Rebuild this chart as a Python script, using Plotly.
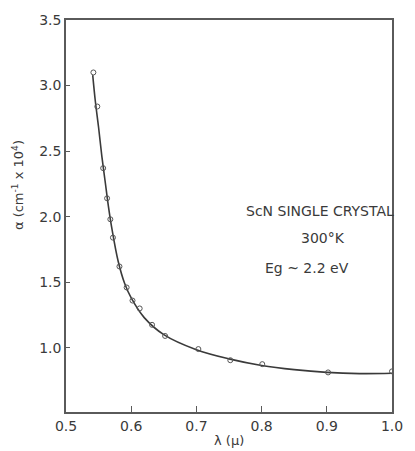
import plotly.graph_objects as go

# Measured absorption coefficient of ScN (units of 10^4 cm^-1) vs wavelength (microns)
wavelength = [0.542, 0.548, 0.557, 0.563, 0.568, 0.572, 0.582, 0.593, 0.602,
              0.613, 0.632, 0.652, 0.703, 0.752, 0.801, 0.902, 1.000]
alpha = [3.10, 2.84, 2.37, 2.14, 1.98, 1.84, 1.62, 1.46, 1.36,
         1.30, 1.175, 1.09, 0.99, 0.905, 0.875, 0.812, 0.82]

# Smooth curve drawn through the measurements
curve_x = [0.541, 0.545, 0.55, 0.555, 0.56, 0.565, 0.57, 0.58, 0.59, 0.60, 0.62,
           0.65, 0.70, 0.75, 0.80, 0.85, 0.90, 0.95, 1.00]
curve_y = [3.08, 2.88, 2.68, 2.46, 2.27, 2.08, 1.92, 1.66, 1.49, 1.38, 1.23,
           1.10, 0.985, 0.915, 0.865, 0.833, 0.812, 0.803, 0.805]

x_ticks = [0.5, 0.6, 0.7, 0.8, 0.9, 1.0]
x_tick_text = ["0.5", "0.6", "0.7", "0.8", "0.9", "1.0"]
y_ticks = [1.0, 1.5, 2.0, 2.5, 3.0, 3.5]
y_tick_text = ["1.0", "1.5", "2.0", "2.5", "3.0", "3.5"]

ink = "#3a3a3a"
axis_col = "#5a5a5a"
font_family = "DejaVu Sans"

fig = go.Figure()
fig.add_trace(go.Scatter(
    x=curve_x, y=curve_y, mode="lines",
    line=dict(color=ink, width=1.6, shape="spline", smoothing=1.0),
    hoverinfo="skip", showlegend=False,
))
fig.add_trace(go.Scatter(
    x=wavelength, y=alpha, mode="markers",
    marker=dict(symbol="circle-open", size=5, color="#555555", line=dict(width=1)),
    showlegend=False,
))

# Sample description
label_font = dict(size=14, color=ink, family=font_family)
fig.add_annotation(x=0.889, y=2.045, xref="x", yref="y", showarrow=False,
                   xanchor="center", yanchor="middle",
                   text="ScN SINGLE CRYSTAL", font=label_font)
fig.add_annotation(x=0.894, y=1.84, xref="x", yref="y", showarrow=False,
                   xanchor="center", yanchor="middle",
                   text="300°K", font=label_font)
fig.add_annotation(x=0.870, y=1.61, xref="x", yref="y", showarrow=False,
                   xanchor="center", yanchor="middle",
                   text="Eg ~ 2.2 eV", font=label_font)

# Axis titles
title_font = dict(size=13, color=ink, family=font_family)
fig.add_annotation(x=0.75, y=-0.072, xref="x", yref="paper", showarrow=False,
                   xanchor="center", yanchor="middle",
                   text="λ (μ)", font=title_font)
fig.add_annotation(x=-0.149, y=0.58, xref="paper", yref="paper", showarrow=False,
                   xanchor="center", yanchor="middle", textangle=-90,
                   text="α (cm<sup>-1</sup> x 10<sup>4</sup>)", font=title_font)

axis_common = dict(
    showline=True, linecolor=axis_col, linewidth=1.5, mirror=True,
    showgrid=False, zeroline=False, ticks="inside", tickcolor=axis_col,
    tickwidth=1, tickfont=dict(size=14, color=ink, family=font_family),
)

fig.update_layout(
    width=415, height=451,
    margin=dict(l=66, r=13, t=13, b=39),
    paper_bgcolor="white", plot_bgcolor="white",
    xaxis=dict(range=[0.5, 1.0], tickvals=x_ticks, ticktext=x_tick_text, ticklen=6,
               **axis_common),
    yaxis=dict(range=[0.51, 3.5], tickvals=y_ticks, ticktext=y_tick_text, ticklen=4,
               **axis_common),
)

fig.write_html("out.html")
